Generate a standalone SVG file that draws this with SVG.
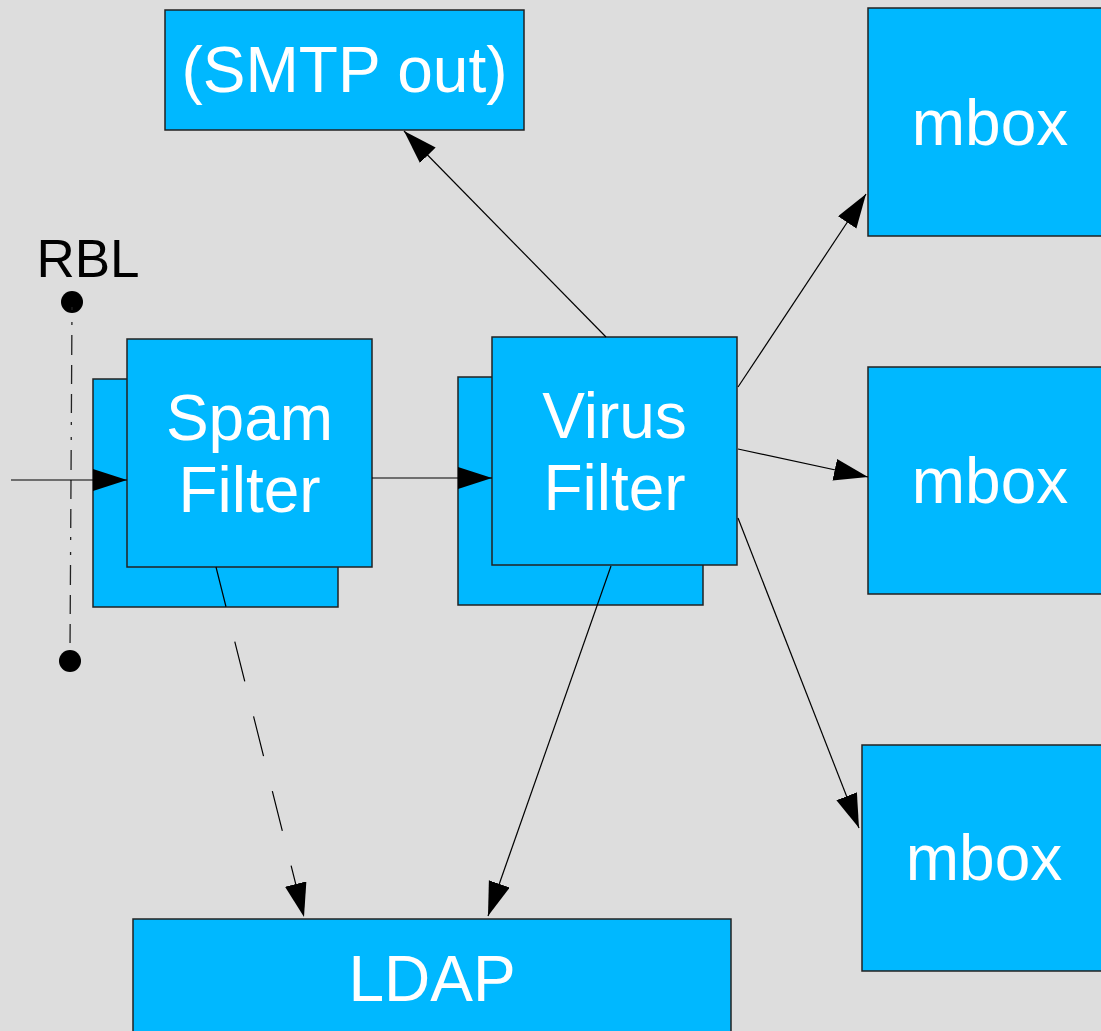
<svg xmlns="http://www.w3.org/2000/svg" width="1101" height="1031" viewBox="0 0 1101 1031">
  <style>
    .box { fill: #00b8ff; stroke: #222; stroke-width: 1.5; }
    .label { font-family: "Liberation Sans", Arial, sans-serif; font-size: 64px; fill: #ffffff; text-anchor: middle; }
    .rbl { font-family: "Liberation Sans", Arial, sans-serif; font-size: 53px; fill: #000000; text-anchor: middle; }
    .link { stroke: #000; stroke-width: 1.2; fill: none; }
    .dashed { stroke-dasharray: 41 36; }
    .dashdot { stroke: #222; stroke-width: 1.3; fill: none; stroke-dasharray: 3 12 3 10 20 10 19 10 19 9; }
  </style>
  <defs>
    <marker id="arrow" markerUnits="userSpaceOnUse" markerWidth="36" markerHeight="24" refX="34" refY="11" orient="auto">
      <path d="M0,0 L34,11 L0,22 Z" fill="#000"/>
    </marker>
  </defs>

  <rect width="1101" height="1031" fill="#dddddd"/>

  <!-- RBL lookup marker -->
  <g id="rbl">
    <text class="rbl" x="88" y="277">RBL</text>
    <circle cx="72" cy="302" r="11" fill="#000"/>
    <circle cx="70" cy="661" r="11" fill="#000"/>
    <line class="dashdot" x1="72" y1="307" x2="70" y2="652"/>
  </g>

  <g id="smtp-out">
    <rect class="box" x="165" y="10" width="359" height="120"/>
    <text class="label" x="344.5" y="92">(SMTP out)</text>
  </g>

  <g id="mbox-1">
    <rect class="box" x="868" y="8" width="245" height="228"/>
    <text class="label" x="990" y="145">mbox</text>
  </g>

  <g id="mbox-2">
    <rect class="box" x="868" y="367" width="245" height="227"/>
    <text class="label" x="990" y="503">mbox</text>
  </g>

  <g id="mbox-3">
    <rect class="box" x="862" y="745" width="245" height="226"/>
    <text class="label" x="984" y="880">mbox</text>
  </g>

  <g id="spam-filter">
    <rect class="box" x="93" y="379" width="245" height="228"/>
    <rect class="box" x="127" y="339" width="245" height="228"/>
    <text class="label" x="249.5" y="440">Spam</text>
    <text class="label" x="249.5" y="512">Filter</text>
  </g>

  <g id="virus-filter">
    <rect class="box" x="458" y="377" width="245" height="228"/>
    <rect class="box" x="492" y="337" width="245" height="228"/>
    <text class="label" x="614.5" y="438">Virus</text>
    <text class="label" x="614.5" y="510">Filter</text>
  </g>

  <g id="ldap">
    <rect class="box" x="133" y="919" width="598" height="120"/>
    <text class="label" x="432" y="1001">LDAP</text>
  </g>

  <!-- connectors -->
  <g id="connectors">
    <line class="link" x1="11" y1="480" x2="127" y2="480" marker-end="url(#arrow)"/>
    <line class="link" x1="372" y1="478" x2="492" y2="478" marker-end="url(#arrow)"/>
    <line class="link dashed" x1="216" y1="567" x2="304" y2="917" marker-end="url(#arrow)"/>
    <line class="link" x1="606" y1="337" x2="404" y2="131" marker-end="url(#arrow)"/>
    <line class="link" x1="611" y1="566" x2="488" y2="916" marker-end="url(#arrow)"/>
    <line class="link" x1="738" y1="387" x2="866" y2="194" marker-end="url(#arrow)"/>
    <line class="link" x1="738" y1="449" x2="868" y2="477" marker-end="url(#arrow)"/>
    <line class="link" x1="738" y1="518" x2="859" y2="828" marker-end="url(#arrow)"/>
  </g>
</svg>
